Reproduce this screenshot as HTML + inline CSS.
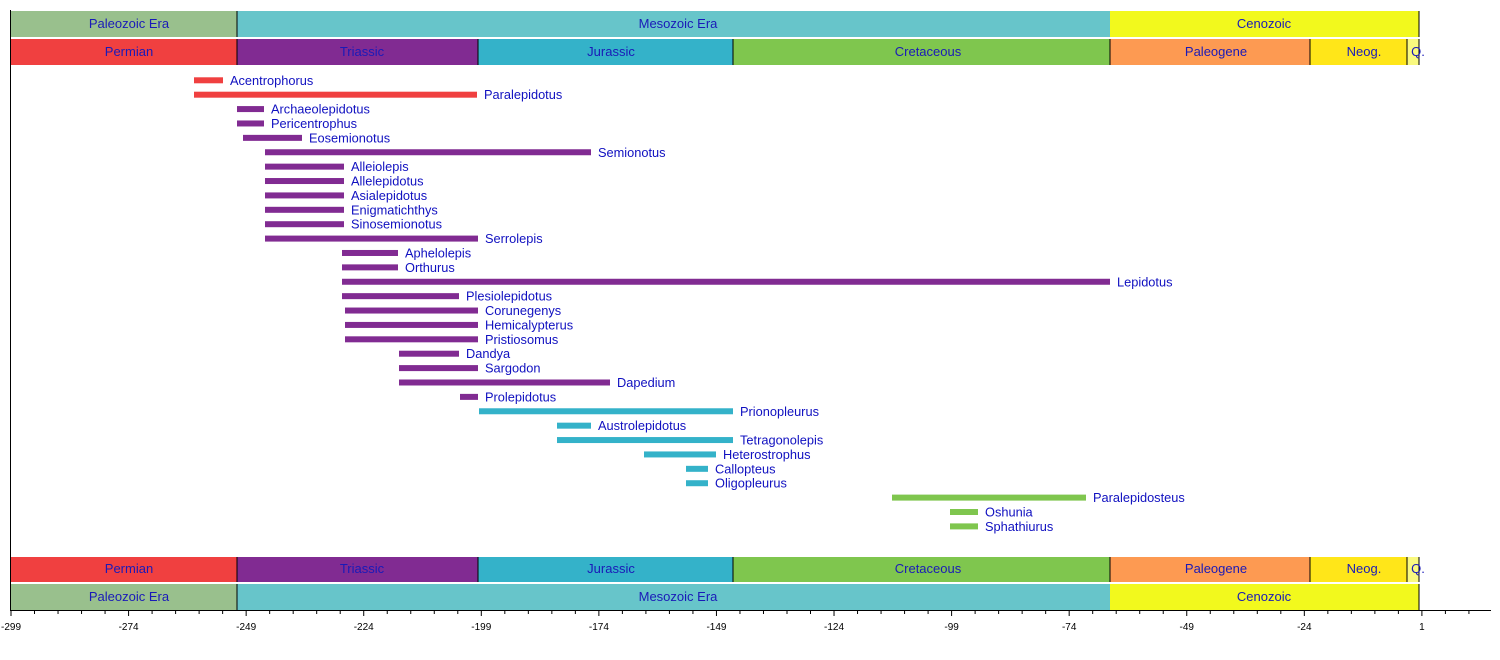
<!DOCTYPE html>
<html><head><meta charset="utf-8"><style>
html,body{margin:0;padding:0;background:#fff;}
svg{display:block;font-family:"Liberation Sans",Arial,sans-serif;}
.bl{fill:#1a1ab8;font-size:13px;text-anchor:middle;}
.lb{fill:#1010c0;font-size:12.8px;}
.tk{font-size:10px;fill:#000;text-anchor:middle;}
</style></head><body>
<svg width="1500" height="660" viewBox="0 0 1500 660" xmlns="http://www.w3.org/2000/svg">
<rect x="11" y="11" width="226" height="26" fill="#99c08d"/>
<rect x="237" y="11" width="873" height="26" fill="#67c5ca"/>
<rect x="1110" y="11" width="309" height="26" fill="#f2f91d"/>
<line x1="237" y1="11" x2="237" y2="37" stroke="#000"/>
<line x1="1419" y1="11" x2="1419" y2="37" stroke="#000"/>
<text class="bl" x="129" y="28">Paleozoic Era</text>
<text class="bl" x="678" y="28">Mesozoic Era</text>
<text class="bl" x="1264" y="28">Cenozoic</text>
<rect x="11" y="39" width="226" height="26" fill="#f04040"/>
<rect x="237" y="39" width="241" height="26" fill="#812b92"/>
<rect x="478" y="39" width="255" height="26" fill="#34b2c9"/>
<rect x="733" y="39" width="377" height="26" fill="#7fc64e"/>
<rect x="1110" y="39" width="200" height="26" fill="#fd9a52"/>
<rect x="1310" y="39" width="97" height="26" fill="#ffe619"/>
<rect x="1407" y="39" width="12" height="26" fill="#f9f97f"/>
<g stroke="#000"><line x1="237" y1="39" x2="237" y2="65"/><line x1="478" y1="39" x2="478" y2="65"/><line x1="733" y1="39" x2="733" y2="65"/><line x1="1110" y1="39" x2="1110" y2="65"/><line x1="1310" y1="39" x2="1310" y2="65"/><line x1="1407" y1="39" x2="1407" y2="65"/><line x1="1419" y1="39" x2="1419" y2="65"/></g>
<text class="bl" x="129" y="56">Permian</text>
<text class="bl" x="362" y="56">Triassic</text>
<text class="bl" x="611" y="56">Jurassic</text>
<text class="bl" x="928" y="56">Cretaceous</text>
<text class="bl" x="1216" y="56">Paleogene</text>
<text class="bl" x="1364" y="56">Neog.</text>
<text class="bl" x="1418" y="56">Q.</text>
<rect x="11" y="557" width="226" height="25" fill="#f04040"/>
<rect x="237" y="557" width="241" height="25" fill="#812b92"/>
<rect x="478" y="557" width="255" height="25" fill="#34b2c9"/>
<rect x="733" y="557" width="377" height="25" fill="#7fc64e"/>
<rect x="1110" y="557" width="200" height="25" fill="#fd9a52"/>
<rect x="1310" y="557" width="97" height="25" fill="#ffe619"/>
<rect x="1407" y="557" width="12" height="25" fill="#f9f97f"/>
<g stroke="#000"><line x1="237" y1="557" x2="237" y2="582"/><line x1="478" y1="557" x2="478" y2="582"/><line x1="733" y1="557" x2="733" y2="582"/><line x1="1110" y1="557" x2="1110" y2="582"/><line x1="1310" y1="557" x2="1310" y2="582"/><line x1="1407" y1="557" x2="1407" y2="582"/><line x1="1419" y1="557" x2="1419" y2="582"/></g>
<text class="bl" x="129" y="573">Permian</text>
<text class="bl" x="362" y="573">Triassic</text>
<text class="bl" x="611" y="573">Jurassic</text>
<text class="bl" x="928" y="573">Cretaceous</text>
<text class="bl" x="1216" y="573">Paleogene</text>
<text class="bl" x="1364" y="573">Neog.</text>
<text class="bl" x="1418" y="573">Q.</text>
<rect x="11" y="584" width="226" height="26" fill="#99c08d"/>
<rect x="237" y="584" width="873" height="26" fill="#67c5ca"/>
<rect x="1110" y="584" width="309" height="26" fill="#f2f91d"/>
<line x1="237" y1="584" x2="237" y2="610" stroke="#000"/>
<line x1="1419" y1="584" x2="1419" y2="610" stroke="#000"/>
<text class="bl" x="129" y="601">Paleozoic Era</text>
<text class="bl" x="678" y="601">Mesozoic Era</text>
<text class="bl" x="1264" y="601">Cenozoic</text>
<line x1="10.5" y1="10" x2="10.5" y2="611" stroke="#000"/>
<line x1="10" y1="610.5" x2="1491" y2="610.5" stroke="#000"/>
<g id="ticks" stroke="#000"></g>
<g id="tl"></g>
<g id="bars"></g>
</svg>
<script>
(function(){
var ns="http://www.w3.org/2000/svg";
function el(t,a,p,txt){var e=document.createElementNS(ns,t);for(var k in a)e.setAttribute(k,a[k]);if(txt)e.textContent=txt;p.appendChild(e);return e;}
var tk=document.getElementById('ticks'),tl=document.getElementById('tl');
var s=4.703;
for(var v=-299;v<=14;v+=5){var x=11+(v+299)*s;var maj=((v+299)%25===0);
el('line',{x1:x,y1:610,x2:x,y2:maj?616:614},tk);
if(maj)el('text',{'class':'tk',x:x,y:630},tl,String(v));}
var C={P:'#f04040',T:'#812b92',J:'#34b2c9',K:'#7fc64e'};
var d=[
['Acentrophorus',194,223,'P'],['Paralepidotus',194,477,'P'],
['Archaeolepidotus',237,264,'T'],['Pericentrophus',237,264,'T'],['Eosemionotus',243,302,'T'],
['Semionotus',265,591,'T'],['Alleiolepis',265,344,'T'],['Allelepidotus',265,344,'T'],
['Asialepidotus',265,344,'T'],['Enigmatichthys',265,344,'T'],['Sinosemionotus',265,344,'T'],
['Serrolepis',265,478,'T'],['Aphelolepis',342,398,'T'],['Orthurus',342,398,'T'],
['Lepidotus',342,1110,'T'],['Plesiolepidotus',342,459,'T'],['Corunegenys',345,478,'T'],
['Hemicalypterus',345,478,'T'],['Pristiosomus',345,478,'T'],['Dandya',399,459,'T'],
['Sargodon',399,478,'T'],['Dapedium',399,610,'T'],['Prolepidotus',460,478,'T'],
['Prionopleurus',479,733,'J'],['Austrolepidotus',557,591,'J'],['Tetragonolepis',557,733,'J'],
['Heterostrophus',644,716,'J'],['Callopteus',686,708,'J'],['Oligopleurus',686,708,'J'],
['Paralepidosteus',892,1086,'K'],['Oshunia',950,978,'K'],['Sphathiurus',950,978,'K']];
var b=document.getElementById('bars');
d.forEach(function(r,i){var y=80.3+i*14.39;
el('rect',{x:r[1],y:y-3,width:r[2]-r[1],height:6,fill:C[r[3]]},b);
el('text',{'class':'lb',x:r[2]+7,y:y+4.5},b,r[0]);});
})();
</script>
</body></html>
